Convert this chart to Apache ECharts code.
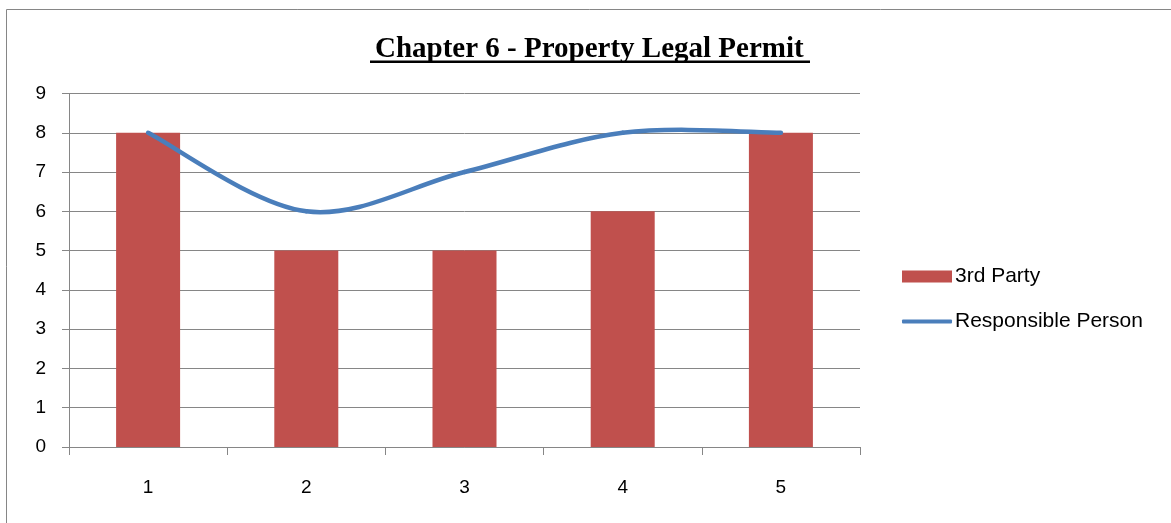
<!DOCTYPE html>
<html>
<head>
<meta charset="utf-8">
<script src="https://cdn.jsdelivr.net/npm/echarts@6/dist/echarts.min.js"></script>
<style>
  html, body { margin: 0; padding: 0; background: #fff; }
  #chart { width: 1171px; height: 523px; }
</style>
</head>
<body>
<div id="chart"></div>
<script>
// chart values
var categories = ['1', '2', '3', '4', '5'];
var thirdParty = [8, 5, 5, 6, 8];
var responsiblePerson = [8, 6, 7, 8, 8];
var yTicks = { min: 0, max: 9, interval: 1 };

var chart = echarts.init(document.getElementById('chart'));
var labelFont = '"Liberation Sans", Arial, sans-serif';

// Excel-like smoothed line: one bezier segment per point pair
function renderSmoothSegment(params, api) {
  var i = params.dataIndex;
  var n = responsiblePerson.length;
  if (i >= n - 1) return null;
  var pt = function (k) {
    k = Math.max(0, Math.min(n - 1, k));
    return api.coord([k, responsiblePerson[k]]);
  };
  var p0 = pt(i - 1), p1 = pt(i), p2 = pt(i + 1), p3 = pt(i + 2);
  var c1 = [p1[0] + (p2[0] - p0[0]) / 6, p1[1] + (p2[1] - p0[1]) / 6];
  var c2 = [p2[0] - (p3[0] - p1[0]) / 6, p2[1] - (p3[1] - p1[1]) / 6];
  return {
    type: 'bezierCurve',
    shape: {
      x1: p1[0], y1: p1[1],
      cpx1: c1[0], cpy1: c1[1],
      cpx2: c2[0], cpy2: c2[1],
      x2: p2[0], y2: p2[1]
    },
    style: { stroke: '#4A7EBB', lineWidth: 4.5, fill: 'none', lineCap: 'round' }
  };
}

var legendText = {
  fontFamily: labelFont,
  fontSize: 21,
  color: '#000',
  padding: [0, 0, 0, -2]
};

var option = {
  backgroundColor: '#fff',
  animation: false,
  title: {
    text: 'Chapter 6 - Property Legal Permit',
    left: 370,
    top: 30,
    textStyle: {
      fontFamily: '"Liberation Serif", "Times New Roman", serif',
      fontWeight: 'bold',
      fontSize: 29,
      color: '#000'
    }
  },
  graphic: [
    // outer chart border
    {
      type: 'rect',
      shape: { x: 6.5, y: 9.5, width: 1300, height: 700 },
      style: { fill: 'none', stroke: '#868686', lineWidth: 1 },
      silent: true
    },
    // title underline
    {
      type: 'rect',
      shape: { x: 370, y: 60.5, width: 440, height: 2.5 },
      style: { fill: '#000' },
      silent: true
    }
  ],
  grid: {
    left: 69,
    right: 311,
    top: 93.5,
    bottom: 76
  },
  legend: [
    {
      orient: 'vertical',
      left: 897,
      top: 261,
      itemWidth: 50,
      itemHeight: 12,
      textStyle: legendText,
      data: [{ name: '3rd Party', icon: 'rect' }]
    },
    {
      orient: 'vertical',
      left: 897,
      top: 306,
      itemWidth: 50,
      itemHeight: 4,
      textStyle: legendText,
      data: [{ name: 'Responsible Person', icon: 'roundRect' }]
    }
  ],
  xAxis: {
    type: 'category',
    data: categories,
    boundaryGap: true,
    axisLine: { lineStyle: { color: '#868686', width: 1 } },
    axisTick: { show: true, length: 8, lineStyle: { color: '#868686' } },
    axisLabel: {
      margin: 31,
      fontFamily: labelFont,
      fontSize: 19,
      color: '#000'
    }
  },
  yAxis: {
    type: 'value',
    min: yTicks.min,
    max: yTicks.max,
    interval: yTicks.interval,
    axisLine: { show: true, lineStyle: { color: '#868686', width: 1 } },
    axisTick: { show: true, length: 7, lineStyle: { color: '#868686' } },
    splitLine: { show: true, lineStyle: { color: '#868686', width: 1 } },
    axisLabel: {
      margin: 23,
      fontFamily: labelFont,
      fontSize: 19,
      color: '#000'
    }
  },
  series: [
    {
      name: '3rd Party',
      type: 'bar',
      data: thirdParty,
      barWidth: 64,
      itemStyle: { color: '#C0504D' }
    },
    {
      name: 'Responsible Person',
      type: 'custom',
      coordinateSystem: 'cartesian2d',
      renderItem: renderSmoothSegment,
      data: responsiblePerson.map(function (v, i) { return [i, v]; }),
      encode: { x: 0, y: 1 },
      itemStyle: { color: '#4A7EBB' },
      z: 3
    }
  ]
};

option && chart.setOption(option);
</script>
</body>
</html>
